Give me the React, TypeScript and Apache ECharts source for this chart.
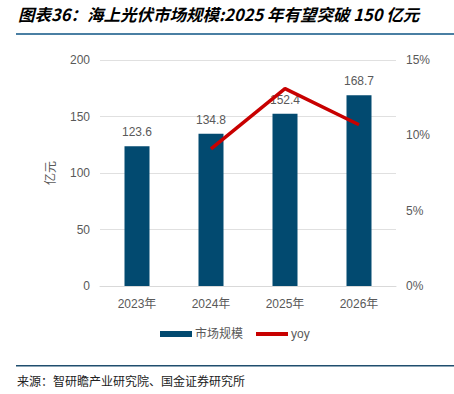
import React, { useEffect, useRef } from "react";
import * as echarts from "echarts";

const categories = ["2023年", "2024年", "2025年", "2026年"];
const marketSize = [123.6, 134.8, 152.4, 168.7];
const yoy = [null, 9.1, 13.1, 10.7];
const titleText = "图表36：海上光伏市场规模:2025 年有望突破 150 亿元";
const sourceText = "来源：智研瞻产业研究院、国金证券研究所";

export default function App() {
  const ref = useRef<HTMLDivElement>(null);
  useEffect(() => {
    const chart = echarts.init(ref.current!, null, { renderer: "svg" });
    const gray = "#595959";
    const font = "Liberation Sans, Arial, Noto Sans CJK SC, sans-serif";
    chart.setOption({
      animation: false,
      backgroundColor: "#ffffff",
      textStyle: { fontFamily: font },
      grid: { left: 100, right: 58, top: 60, bottom: 108 },
      legend: {
        bottom: 49,
        left: 155,
        itemGap: 13,
        itemWidth: 32,
        itemHeight: 6,
        itemStyle: { borderWidth: 0 },
        textStyle: { color: gray, fontSize: 12, fontFamily: font, padding: [0, 0, 0, -2] },
        data: [
          { name: "市场规模", icon: "rect" },
          { name: "yoy", icon: "path://M0,0 L32,0 L32,4 L0,4 Z" },
        ],
      },
      xAxis: {
        type: "category",
        data: categories,
        axisLine: { show: true, lineStyle: { color: "#d9d9d9" } },
        axisTick: { show: false },
        axisLabel: { color: gray, fontSize: 12, margin: 12 },
      },
      yAxis: [
        {
          type: "value",
          min: 0,
          max: 200,
          interval: 50,
          name: "亿元",
          nameLocation: "middle",
          nameGap: 43,
          nameRotate: 90,
          nameTextStyle: { color: gray, fontSize: 12 },
          axisLine: { show: false },
          axisTick: { show: false },
          axisLabel: { color: gray, fontSize: 12, margin: 10 },
          splitLine: { lineStyle: { color: "#e0e0e0" } },
        },
        {
          type: "value",
          min: 0,
          max: 15,
          interval: 5,
          axisLine: { show: false },
          axisTick: { show: false },
          axisLabel: { color: gray, fontSize: 12, margin: 10, formatter: "{value}%" },
          splitLine: { show: false },
        },
      ],
      series: [
        {
          name: "市场规模",
          type: "bar",
          data: marketSize,
          barWidth: 25,
          itemStyle: { color: "#024a70" },
          label: {
            show: true,
            position: "top",
            distance: 8,
            color: gray,
            fontSize: 12,
            formatter: (p: any) => p.value.toFixed(1),
          },
        },
        {
          name: "yoy",
          type: "line",
          yAxisIndex: 1,
          data: yoy,
          symbol: "none",
          lineStyle: { color: "#c80000", width: 3.5 },
          itemStyle: { color: "#c80000" },
        },
      ],
      graphic: [
        {
          type: "text",
          left: 18,
          top: 6,
          style: {
            text: titleText,
            fontSize: 16.5,
            fontWeight: "bold",
            fontStyle: "italic",
            fontFamily: "Noto Sans CJK SC, sans-serif",
            fill: "#000000",
          },
        },
        {
          type: "rect",
          shape: { x: 16, y: 33, width: 438, height: 2 },
          style: { fill: "#4a7fa3" },
        },
        {
          type: "rect",
          shape: { x: 16, y: 365, width: 438, height: 1.5 },
          style: { fill: "#1f4e6e" },
        },
        {
          type: "text",
          left: 17,
          top: 374,
          style: {
            text: sourceText,
            fontSize: 12,
            fontFamily: "Noto Sans CJK SC, serif",
            fill: "#222222",
          },
        },
      ],
    });
    return () => chart.dispose();
  }, []);
  return <div ref={ref} style={{ width: 454, height: 394, position: "absolute", left: 0, top: 0 }} />;
}
